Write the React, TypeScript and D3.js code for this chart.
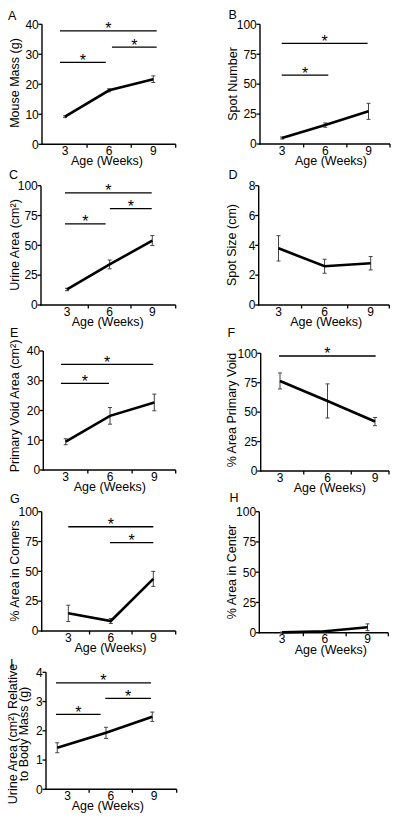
import React from "react";
import * as d3 from "d3";

// ---------- data ----------
const weeks = [3, 6, 9];
const xTickLabels = ["3", "6", "9"];
const xTickMarks = [4.5, 7.5];

const mouseMassMean = [9.2, 18, 21.7];
const mouseMassErr = [0.3, 0.5, 1.1];
const spotNumberMean = [5, 15.8, 27.3];
const spotNumberErr = [0.8, 1.8, 6.7];
const urineAreaMean = [13, 34, 54];
const urineAreaErr = [1, 3.7, 4.2];
const spotSizeMean = [3.8, 2.6, 2.8];
const spotSizeErr = [0.85, 0.47, 0.45];
const primaryVoidMean = [9.5, 18.2, 22.7];
const primaryVoidErr = [1, 2.8, 2.8];
const pctPrimaryMean = [76.5, 59.5, 42];
const pctPrimaryErr = [6.8, 14.5, 3.5];
const pctCornersMean = [14.8, 8.4, 43.7];
const pctCornersErr = [6.8, 2.1, 6.3];
const pctCenterMean = [0.3, 1.2, 4.5];
const pctCenterErr = [0.2, 0.5, 2.8];
const relAreaWeeks = [2.29, 5.67, 8.88];
const relAreaMean = [1.42, 1.93, 2.48];
const relAreaErr = [0.17, 0.19, 0.16];

const ticks40 = [0, 10, 20, 30, 40];
const ticks100 = [0, 25, 50, 75, 100];
const ticks8 = [0, 2, 4, 6, 8];
const ticks4 = [0, 1, 2, 3, 4];

// significance bars: [x1, x2, y] in data units
const mouseMassSig = [[2.66, 9.23, 37.8], [2.66, 5.77, 27.3], [6.19, 9.23, 32.4]];
const spotNumberSig = [[2.98, 8.94, 84], [2.98, 6.21, 57.5]];
const urineAreaSig = [[2.86, 8.96, 94], [2.86, 5.72, 68], [6.02, 8.96, 80.7]];
const spotSizeSig: number[][] = [];
const primaryVoidSig = [[2.68, 8.93, 35.5], [2.68, 5.93, 29.1]];
const pctPrimarySig = [[2.94, 9.04, 97.7]];
const pctCornersSig = [[3, 9, 87.4], [5.94, 9, 74]];
const pctCenterSig: number[][] = [];
const relAreaSig = [[2.2, 8.79, 3.64], [2.2, 5.3, 2.56], [5.62, 8.79, 3.11]];

// ---------- layout ----------
type Panel = {
  letter: string;
  title: string[];
  xs: number[];
  mean: number[];
  err: number[];
  sig: number[][];
  ticks: number[];
  ymax: number;
  axisX: number; xEnd: number; x3: number; x9: number; yTop: number; yBot: number;
  titleX: number; letterX: number; letterY: number; yTitleX: number[]; yTitleY: number;
};

const panels: Panel[] = [
  { letter: "A", title: ["Mouse Mass (g)"], xs: weeks, mean: mouseMassMean, err: mouseMassErr, sig: mouseMassSig, ticks: ticks40, ymax: 40,
    axisX: 42, xEnd: 175.7, x3: 65, x9: 153.3, yTop: 24.3, yBot: 144.3, titleX: 107, letterX: 8, letterY: 20, yTitleX: [19], yTitleY: 83 },
  { letter: "B", title: ["Spot Number"], xs: weeks, mean: spotNumberMean, err: spotNumberErr, sig: spotNumberSig, ticks: ticks100, ymax: 100,
    axisX: 260, xEnd: 390, x3: 282, x9: 368.5, yTop: 24.3, yBot: 144, titleX: 331, letterX: 228.5, letterY: 18.5, yTitleX: [236.5], yTitleY: 84 },
  { letter: "C", title: ["Urine Area (cm²)"], xs: weeks, mean: urineAreaMean, err: urineAreaErr, sig: urineAreaSig, ticks: ticks100, ymax: 100,
    axisX: 41, xEnd: 175.7, x3: 67, x9: 152.3, yTop: 185.7, yBot: 305, titleX: 107.7, letterX: 9, letterY: 178.5, yTitleX: [18.5], yTitleY: 245 },
  { letter: "D", title: ["Spot Size (cm)"], xs: weeks, mean: spotSizeMean, err: spotSizeErr, sig: spotSizeSig, ticks: ticks8, ymax: 8,
    axisX: 258.7, xEnd: 389.3, x3: 278.5, x9: 370.7, yTop: 185.7, yBot: 305, titleX: 326.2, letterX: 228.5, letterY: 178.5, yTitleX: [236], yTitleY: 245 },
  { letter: "E", title: ["Primary Void Area (cm²)"], xs: weeks, mean: primaryVoidMean, err: primaryVoidErr, sig: primaryVoidSig, ticks: ticks40, ymax: 40,
    axisX: 43.3, xEnd: 175.7, x3: 65.7, x9: 154.3, yTop: 351, yBot: 470, titleX: 109.8, letterX: 10, letterY: 336.7, yTitleX: [19], yTitleY: 406 },
  { letter: "F", title: ["% Area Primary Void"], xs: weeks, mean: pctPrimaryMean, err: pctPrimaryErr, sig: pctPrimarySig, ticks: ticks100, ymax: 100,
    axisX: 260.7, xEnd: 389, x3: 280, x9: 375, yTop: 353.3, yBot: 471, titleX: 329.8, letterX: 227.5, letterY: 336.7, yTitleX: [236], yTitleY: 410 },
  { letter: "G", title: ["% Area in Corners"], xs: weeks, mean: pctCornersMean, err: pctCornersErr, sig: pctCornersSig, ticks: ticks100, ymax: 100,
    axisX: 41.7, xEnd: 175.7, x3: 68.3, x9: 153.3, yTop: 511.7, yBot: 631, titleX: 110.5, letterX: 10, letterY: 503, yTitleX: [19], yTitleY: 571 },
  { letter: "H", title: ["% Area in Center"], xs: weeks, mean: pctCenterMean, err: pctCenterErr, sig: pctCenterSig, ticks: ticks100, ymax: 100,
    axisX: 259.3, xEnd: 388.3, x3: 282, x9: 367.5, yTop: 511.7, yBot: 632.7, titleX: 330.8, letterX: 229.5, letterY: 502, yTitleX: [236], yTitleY: 572 },
  { letter: "I", title: ["Urine Area (cm²) Relative", "to Body Mass (g)"], xs: relAreaWeeks, mean: relAreaMean, err: relAreaErr, sig: relAreaSig, ticks: ticks4, ymax: 4,
    axisX: 46, xEnd: 176.7, x3: 67.5, x9: 154, yTop: 672.3, yBot: 789.3, titleX: 107.8, letterX: 10, letterY: 668, yTitleX: [16.5, 28.3], yTitleY: 734 },
];

const FONT = "'Liberation Sans', Arial, Helvetica, sans-serif";

function PanelView({ p }: { p: Panel }) {
  const x = d3.scaleLinear().domain([3, 9]).range([p.x3, p.x9]);
  const y = d3.scaleLinear().domain([0, p.ymax]).range([p.yBot, p.yTop]);
  const pts = p.mean.map((m, i) => ({ x: p.xs[i], m, e: p.err[i] }));
  const line = d3.line<{ x: number; m: number }>().x((d) => x(d.x)).y((d) => y(d.m));
  const tickLen = 3.5;
  return (
    <g>
      <text x={p.letterX} y={p.letterY} fontSize={12.5} fontFamily={FONT}>{p.letter}</text>
      {/* y axis */}
      <line x1={p.axisX} x2={p.axisX} y1={p.yTop} y2={p.yBot + 0.7} stroke="#000" strokeWidth={1.4} />
      {p.ticks.map((t) => (
        <g key={"yt" + t}>
          <line x1={p.axisX - tickLen} x2={p.axisX} y1={y(t)} y2={y(t)} stroke="#000" strokeWidth={1.3} />
          <text x={p.axisX - 3.2} y={y(t)} dy="0.36em" textAnchor="end" fontSize={12} fontFamily={FONT}>{t}</text>
        </g>
      ))}
      {/* x axis */}
      <line x1={p.axisX - 0.7} x2={p.xEnd} y1={p.yBot} y2={p.yBot} stroke="#000" strokeWidth={1.4} />
      {xTickMarks.map((t) => (
        <line key={"xm" + t} x1={x(t)} x2={x(t)} y1={p.yBot} y2={p.yBot + tickLen} stroke="#000" strokeWidth={1.3} />
      ))}
      <line x1={p.xEnd} x2={p.xEnd} y1={p.yBot} y2={p.yBot + tickLen} stroke="#000" strokeWidth={1.3} />
      {weeks.map((w, i) => (
        <text key={"xl" + w} x={x(w)} y={p.yBot + 10.6} textAnchor="middle" fontSize={12} fontFamily={FONT}>{xTickLabels[i]}</text>
      ))}
      <text x={p.titleX} y={p.yBot + 20.8} textAnchor="middle" fontSize={12.5} fontFamily={FONT}>Age (Weeks)</text>
      {/* y title */}
      {p.title.map((t, i) => (
        <text key={"yt" + i} transform={`translate(${p.yTitleX[i]},${p.yTitleY}) rotate(-90)`} textAnchor="middle" fontSize={12.5} fontFamily={FONT}>{t}</text>
      ))}
      {/* significance */}
      {p.sig.map((s, i) => (
        <g key={"sig" + i}>
          <line x1={x(s[0])} x2={x(s[1])} y1={y(s[2])} y2={y(s[2])} stroke="#000" strokeWidth={1.3} />
          <text x={(x(s[0]) + x(s[1])) / 2} y={y(s[2]) + 3.4} textAnchor="middle" fontSize={16} fontFamily={FONT}>*</text>
        </g>
      ))}
      {/* error bars */}
      {pts.map((d, i) => (
        <g key={"eb" + i} stroke="#444" strokeWidth={1}>
          <line x1={x(d.x)} x2={x(d.x)} y1={y(d.m - d.e)} y2={y(d.m + d.e)} />
          <line x1={x(d.x) - 2} x2={x(d.x) + 2} y1={y(d.m - d.e)} y2={y(d.m - d.e)} />
          <line x1={x(d.x) - 2} x2={x(d.x) + 2} y1={y(d.m + d.e)} y2={y(d.m + d.e)} />
        </g>
      ))}
      <path d={line(pts) || ""} fill="none" stroke="#000" strokeWidth={2.6} />
    </g>
  );
}

export default function App() {
  return (
    <svg width={400} height={824} style={{ position: "absolute", left: 0, top: 0, background: "#fff" }}>
      <rect x={0} y={0} width={400} height={824} fill="#fff" />
      {panels.map((p) => (
        <PanelView key={p.letter} p={p} />
      ))}
    </svg>
  );
}
